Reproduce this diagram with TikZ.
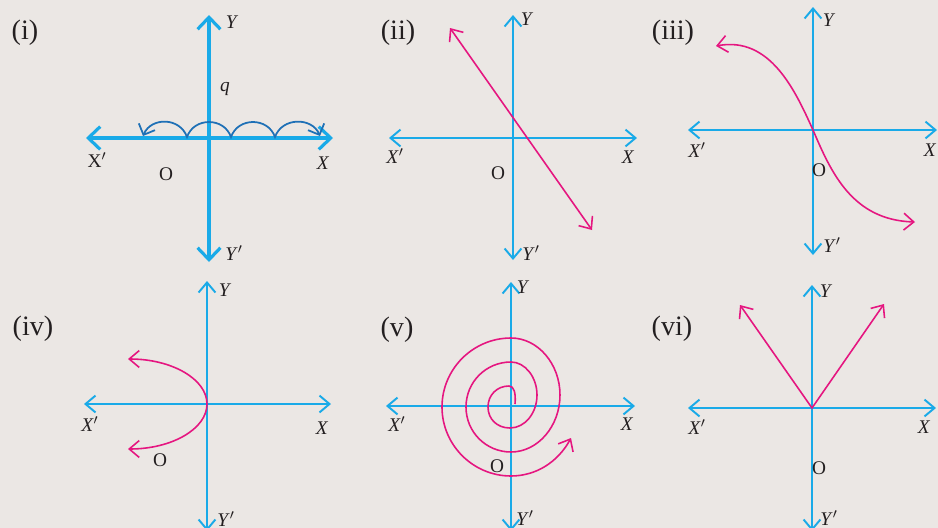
\documentclass[tikz,border=0pt]{standalone}
\usepackage{fontspec}
\setmainfont{Liberation Serif}
\usepackage{tikz}
\usetikzlibrary{arrows.meta}

\definecolor{axisblue}{RGB}{25,170,232}
\definecolor{curvepink}{RGB}{229,22,128}
\definecolor{hopblue}{RGB}{30,112,182}
\definecolor{paper}{RGB}{235,231,228}
\definecolor{ink}{RGB}{35,31,32}

\tikzset{
  axtip/.tip={Straight Barb[length=5.7pt,width=9.6pt]},
  bigtip/.tip={Straight Barb[length=6.8pt,width=13pt]},
  hoptip/.tip={Straight Barb[length=5pt,width=10pt]},
  axis/.style={draw=axisblue, line width=1.1pt, axtip-axtip},
  bigaxis/.style={draw=axisblue, line width=1.8pt, bigtip-bigtip},
  curve/.style={draw=curvepink, line width=0.9pt},
  lbl/.style={text=ink, font=\fontsize{11}{13}\selectfont},
  panel/.style={text=ink, font=\fontsize{16}{19}\selectfont}
}

\begin{document}
\begin{tikzpicture}[x=0.02cm, y=-0.02cm]
    % paper and page size
    \fill[paper] (0,0) rectangle (938,528);
    \useasboundingbox (0,0) rectangle (938,528);

    %%%%% (i) hops along the x-axis
    \draw[bigaxis] (86,138) -- (333,138);
    \draw[bigaxis] (209,262) -- (209,15);
    \draw[hopblue, line width=1pt, hoptip-hoptip] (143,136)
        .. controls (151,117) and (180,117) .. (187,137)
        .. controls (194,117) and (224,117) .. (231,137)
        .. controls (238,117) and (268,117) .. (275,137)
        .. controls (282,117) and (312,117) .. (320,136);

    \node[panel] (pi) at (25,33) {(i)};
    \node[lbl] (Yi) at (232,22) {\textit{Y}};
    \node[lbl] (Ypi) at (234,253) {\textit{Y}$'$};
    \node[lbl] (Xi) at (323,163) {\textit{X}};
    \node[lbl] (Xpi) at (97,160) {X$'$};
    \node[lbl] (Oi) at (166,174) {O};
    \node[lbl] (qi) at (225,89) {\textit{q}};

    %%%%% (ii) straight line
    \draw[axis] (389,138) -- (637,138);
    \draw[axis] (513,260) -- (513,15);
    \draw[curve, axtip-axtip] (450,28) -- (592,230);

    \node[panel] (pii) at (398,33) {(ii)};
    \node[lbl] (Yii) at (527,19) {\textit{Y}};
    \node[lbl] (Ypii) at (531,253) {\textit{Y}$'$};
    \node[lbl] (Xii) at (628,157) {\textit{X}};
    \node[lbl] (Xpii) at (395,156) {\textit{X}$'$};
    \node[lbl] (Oii) at (498,173) {O};

    %%%%% (iii) s-curve through the origin
    \draw[axis] (688,130) -- (937,130);
    \draw[axis] (813,255) -- (813,7);
    \draw[curve, axtip-axtip] (716,46) .. controls (770,36) and (795,90) .. (813,130)
        .. controls (831,172) and (852,220) .. (915,222);

    \node[panel] (piii) at (673,33) {(iii)};
    \node[lbl] (Yiii) at (829,20) {\textit{Y}};
    \node[lbl] (Ypiii) at (832,245) {\textit{Y}$'$};
    \node[lbl] (Xiii) at (930,150) {\textit{X}};
    \node[lbl] (Xpiii) at (697,150) {\textit{X}$'$};
    \node[lbl] (Oiii) at (819,170) {O};

    %%%%% (iv) half ellipse
    \draw[axis] (84,404) -- (331,404);
    \draw[axis] (207,531) -- (207,281);
    \draw[curve, axtip-axtip] (128,359) .. controls (171.6,359) and (207,379) .. (207,404)
        .. controls (207,429) and (171.6,449) .. (128,449);

    \node[panel] (piv) at (33,329) {(iv)};
    \node[lbl] (Yiv) at (225,290) {\textit{Y}};
    \node[lbl] (Ypiv) at (226,519) {\textit{Y}$'$};
    \node[lbl] (Xiv) at (322,428) {\textit{X}};
    \node[lbl] (Xpiv) at (90,424) {\textit{X}$'$};
    \node[lbl] (Oiv) at (160,460) {O};

    %%%%% (v) spiral
    \draw[axis] (386,406) -- (635,406);
    \draw[axis] (511,531) -- (511,282);
    \draw[curve, -axtip] (515,404) .. controls (516,393) and (514,386) .. (509,386)
        .. controls (497,386) and (488,395) .. (488,407)
        .. controls (488,419) and (497,428) .. (510,428)
        .. controls (525,428) and (537,413) .. (537,395)
        .. controls (537,377) and (525,362) .. (511,362)
        .. controls (486,362) and (466,382) .. (466,407)
        .. controls (466,432) and (486,452) .. (511,452)
        .. controls (538,452) and (560,426) .. (560,395)
        .. controls (560,364) and (538,338) .. (511,338)
        .. controls (473,338) and (442,369) .. (442,407)
        .. controls (442,445) and (473,476) .. (511,476)
        .. controls (536,476) and (558,462) .. (571,438);

    \node[panel] (pv) at (397,330) {(v)};
    \node[lbl] (Yv) at (523,287) {\textit{Y}};
    \node[lbl] (Ypv) at (525,518) {\textit{Y}$'$};
    \node[lbl] (Xv) at (627,424) {\textit{X}};
    \node[lbl] (Xpv) at (397,424) {\textit{X}$'$};
    \node[lbl] (Ov) at (497,466) {O};

    %%%%% (vi) V shape
    \draw[axis] (688,408) -- (936,408);
    \draw[axis] (812,531) -- (812,285);
    \draw[curve, axtip-axtip, line join=miter] (740,305) -- (812,408) -- (884,304);

    \node[panel] (pvi) at (672,329) {(vi)};
    \node[lbl] (Yvi) at (826,291) {\textit{Y}};
    \node[lbl] (Ypvi) at (829,518) {\textit{Y}$'$};
    \node[lbl] (Xvi) at (924,427) {\textit{X}};
    \node[lbl] (Xpvi) at (697,427) {\textit{X}$'$};
    \node[lbl] (Ovi) at (819,468) {O};
\end{tikzpicture}
\end{document}
